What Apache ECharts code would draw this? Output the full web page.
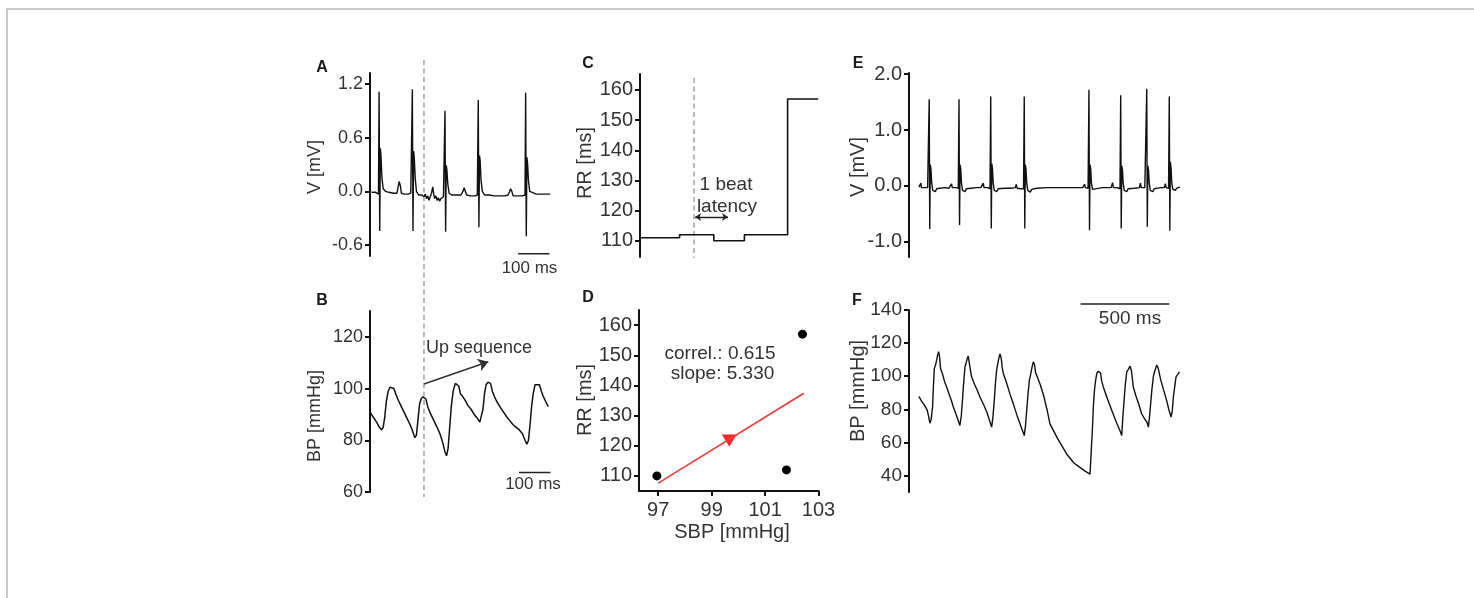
<!DOCTYPE html>
<html>
<head>
<meta charset="utf-8">
<script src="https://cdn.jsdelivr.net/npm/echarts@6/dist/echarts.min.js"></script>
<style>
html, body { margin: 0; padding: 0; background: #fff; overflow: hidden; }
#frame { position: absolute; left: 6px; top: 8px; width: 1500px; height: 700px; border-top: 2px solid #cbcbcb; border-left: 2px solid #cbcbcb; }
#chart { position: absolute; left: 0; top: 0; width: 1474px; height: 598px; }
</style>
</head>
<body>
<div id="frame"></div>
<div id="chart"></div>
<script>
const FONT = '"Liberation Sans", Arial, sans-serif';
const INK = '#111';
const TXT = '#333';

// A: ECG around the marker, [ms, mV]
const ecgA = [
  [5, -0.01], [18, -0.01], [24, 0.0], [27, -0.03],
  [29, 1.11], [31, -0.44], [33, 0.48], [35, 0.40], [38, 0.15], [42, 0.03], [50, 0.0], [60, -0.01], [75, -0.02], [86, -0.02],
  [90, 0.06], [93, 0.11], [97, 0.06], [100, -0.02], [110, -0.03], [122, -0.03], [130, -0.02], [133, -0.03],
  [135, 1.14], [137, -0.44], [139, 0.45], [141, 0.38], [144, 0.15], [148, 0.0], [155, -0.04], [165, -0.04],
  [172, -0.06], [176, -0.03], [180, -0.08], [184, -0.05], [188, -0.1], [192, -0.06], [196, -0.02], [200, 0.05],
  [203, -0.03], [206, -0.08], [210, -0.05], [214, -0.1], [218, -0.07], [222, -0.11], [226, -0.08], [230, -0.09], [234, -0.06], [237, -0.07],
  [239, 0.90], [241, -0.45], [243, 0.29], [245, 0.24], [248, 0.08], [252, -0.02], [260, -0.04], [275, -0.04], [290, -0.04],
  [296, 0.0], [300, 0.04], [304, 0.0], [308, -0.04], [320, -0.05], [335, -0.05], [342, -0.04],
  [345, 1.02], [347, -0.40], [349, 0.40], [351, 0.34], [354, 0.12], [358, 0.0], [365, -0.04], [380, -0.04], [395, -0.05],
  [414, -0.05], [430, -0.05], [440, -0.04], [445, 0.0], [448, 0.03], [452, 0.0], [456, -0.05], [470, -0.05], [485, -0.05], [494, -0.04],
  [496, 1.10], [498, -0.50], [500, 0.38], [502, 0.32], [505, 0.12], [509, 0.0], [515, -0.02], [530, -0.03], [545, -0.03], [560, -0.03], [574, -0.03]
];
const ecgATicks = [-0.6, 0, 0.6, 1.2];
const scaleBarA = [[472, -0.694], [572, -0.694]];
const markerTime = 172;

// B: blood pressure, [ms, mmHg]
const bpB = [
  [0, 91], [10, 89], [21, 87], [30, 85], [37, 84], [42, 85], [47, 89], [52, 95], [58, 99], [64, 100.5], [70, 100.5],
  [76, 100], [82, 98], [90, 95.5], [98, 93.5], [108, 91], [118, 88.5], [128, 86], [136, 83.5], [143, 81], [148, 82],
  [153, 88], [158, 94], [163, 96], [168, 96.8], [174, 97], [178, 96], [184, 93], [192, 90.5], [202, 88], [212, 85.5],
  [223, 82.5], [232, 79], [239, 75.5], [244, 74], [249, 77], [254, 85], [259, 93], [265, 99], [272, 102], [278, 102.5],
  [283, 101], [288, 98], [295, 97], [303, 95.5], [312, 93.5], [322, 92], [332, 90], [342, 88.5], [350, 87], [355, 87.5],
  [360, 92], [365, 98], [370, 101.5], [376, 102.5], [384, 102], [390, 99], [396, 97], [404, 95], [414, 93], [425, 91],
  [436, 89], [446, 87.5], [456, 86], [466, 85], [476, 84], [486, 82.5], [494, 80], [500, 78.5], [505, 80], [510, 86],
  [515, 93], [520, 98], [526, 101.5], [532, 102], [540, 101.5], [546, 99], [552, 97], [560, 95], [568, 93]
];
const bpBTicks = [60, 80, 100, 120];
const scaleBarB = [[475, 67.5], [575, 67.5]];
const upArrowB = [[172, 101.8], [377, 110.4]];

// C: RR intervals as steps
const rrStepX = [0, 22, 41, 58, 82, 99];
const rrStepY = [111, 112, 110, 112, 157, 157];
const rrTicks = [110, 120, 130, 140, 150, 160];
const markerC = 30;
const latencyArrow = [[30.6, 117.9], [48.9, 117.9]];

// D: SBP vs RR
const sbp = [96.95, 101.8, 102.4];
const rrD = [110, 112, 157];
const regLine = [[97.0, 107.6], [102.45, 137.4]];
const regArrow = [[99.66, 121.7]];
const sbpTicks = [97, 99, 101, 103];

// E: longer ECG, [ms, mV]
const ecgE = [
  [56, -0.02], [62, -0.03], [67, 0.05], [70, -0.03], [90, -0.03], [105, -0.03], [110, -0.05],
  [114, 1.55], [117, -0.77], [120, 0.38], [124, 0.30], [128, 0.05], [134, -0.08], [142, -0.06], [148, -0.1], [156, -0.05],
  [175, -0.04], [200, -0.03], [225, -0.04], [235, -0.03], [240, 0.04], [244, -0.03], [265, -0.03], [278, -0.04],
  [282, 1.55], [285, -0.70], [288, 0.38], [292, 0.30], [296, 0.05], [302, -0.08], [310, -0.06], [316, -0.1], [324, -0.05],
  [350, -0.04], [380, -0.03], [405, -0.03], [415, -0.02], [419, 0.05], [423, -0.03], [445, -0.03], [457, -0.05],
  [461, 1.60], [464, -0.76], [467, 0.40], [471, 0.30], [475, 0.05], [481, -0.08], [489, -0.06], [495, -0.1], [503, -0.05],
  [540, -0.04], [575, -0.04], [600, -0.03], [605, 0.03], [610, -0.04], [630, -0.05], [646, -0.05],
  [650, 1.60], [653, -0.76], [656, 0.38], [660, 0.30], [664, 0.05], [670, -0.08], [678, -0.06], [684, -0.11], [692, -0.06],
  [720, -0.04], [780, -0.03], [850, -0.03], [930, -0.03], [980, -0.03], [990, 0.03], [995, -0.03], [1010, -0.04],
  [1015, 1.72], [1018, -0.79], [1021, 0.38], [1025, 0.30], [1029, 0.05], [1035, -0.06], [1045, -0.04], [1090, -0.03],
  [1140, -0.03], [1148, 0.06], [1153, -0.03], [1175, -0.03], [1190, -0.05],
  [1194, 1.62], [1197, -0.76], [1200, 0.36], [1204, 0.28], [1208, 0.05], [1214, -0.08], [1222, -0.06], [1228, -0.1], [1236, -0.05],
  [1270, -0.04], [1300, -0.03], [1305, 0.05], [1310, -0.03], [1330, -0.03], [1337, -0.05],
  [1341, 1.74], [1344, -0.73], [1347, 0.36], [1351, 0.28], [1355, 0.05], [1361, -0.08], [1369, -0.06], [1375, -0.1], [1383, -0.05],
  [1420, -0.03], [1440, -0.03], [1446, 0.04], [1450, -0.03], [1464, -0.04],
  [1468, 1.60], [1471, -0.80], [1474, 0.43], [1478, 0.32], [1482, 0.05], [1488, -0.06], [1496, -0.04], [1502, -0.08], [1510, -0.04],
  [1520, -0.03], [1528, -0.02]
];
const ecgETicks = [-1, 0, 1, 2];

// F: longer blood pressure, [ms, mmHg]
const bpF = [
  [56, 87.8], [70, 85], [81, 83.4], [95, 81], [103, 79.3], [110, 76], [118, 71.6], [125, 74], [133, 81.4], [138, 95],
  [143, 104.7], [150, 107], [156, 109.7], [162, 113], [167, 114.8], [172, 112], [178, 104.7], [190, 101], [200, 97],
  [212, 93.5], [225, 89.5], [240, 85], [250, 81.4], [262, 78], [275, 74], [287, 70.2], [295, 76], [302, 86.4], [309, 97],
  [316, 105.7], [322, 108], [328, 110.5], [334, 112.2], [340, 111], [346, 104], [353, 99.6], [370, 95], [385, 91.5],
  [400, 87.4], [420, 83], [440, 78], [455, 73], [466, 69.2], [473, 75], [481, 85.4], [487, 95], [494, 103.6], [500, 107],
  [507, 111], [513, 113.4], [520, 111], [526, 105], [532, 101.6], [550, 96], [570, 89], [588, 83.4], [610, 76], [630, 70],
  [650, 64.1], [657, 70], [664, 79.3], [671, 89], [679, 97.6], [686, 101], [693, 105], [701, 108.7], [708, 107], [714, 102],
  [720, 100.6], [740, 95], [760, 88], [780, 79], [795, 71.2], [840, 62], [889, 53], [930, 47.5], [964, 44.9], [995, 42.5],
  [1021, 40.8], [1028, 55], [1034, 67.2], [1040, 82], [1046, 91.5], [1052, 97], [1059, 101.6], [1066, 103], [1074, 103.6],
  [1080, 102], [1087, 97], [1096, 93.5], [1120, 86], [1145, 79], [1170, 72], [1190, 67], [1200, 64.1], [1206, 75],
  [1213, 85.4], [1220, 95], [1228, 102.6], [1236, 104], [1247, 106.1], [1255, 103], [1265, 93.5], [1280, 88], [1296, 83],
  [1312, 77.3], [1330, 74], [1343, 72], [1350, 69.2], [1357, 76], [1363, 83.4], [1370, 92], [1378, 99.6], [1386, 103],
  [1397, 106.7], [1405, 105], [1420, 97.6], [1435, 92], [1453, 85.4], [1465, 80], [1478, 75.3], [1485, 79], [1491, 87.4],
  [1499, 94], [1506, 99.6], [1515, 101], [1525, 102.6]
];
const bpFTicks = [40, 60, 80, 100, 120, 140];
const scaleBarF = [[968, 143.6], [1468, 143.6]];

function yAxis(gi, min, max, ticks, digits, size) {
  return {
    type: 'value', gridIndex: gi, min: min, max: max,
    axisLine: { show: true, onZero: false, lineStyle: { color: INK, width: 2 } },
    axisTick: { show: true, length: 5, customValues: ticks, lineStyle: { color: INK, width: 2 } },
    axisLabel: { customValues: ticks, margin: 7, color: TXT, fontSize: size, fontFamily: FONT,
      formatter: function (v) { return Number(v).toFixed(digits); } },
    splitLine: { show: false }
  };
}
function hiddenX(gi, min, max) {
  return { type: 'value', gridIndex: gi, min: min, max: max, show: false };
}
function trace(gi, data, width) {
  return { type: 'line', xAxisIndex: gi, yAxisIndex: gi, data: data, symbol: 'none', silent: true,
    lineStyle: { color: INK, width: width } };
}
function bar(gi, data) {
  return { type: 'line', xAxisIndex: gi, yAxisIndex: gi, data: data, symbol: 'none', clip: false, silent: true,
    lineStyle: { color: '#222', width: 1.5 } };
}
function txt(x, y, s, size, align) {
  return { type: 'text', x: x, y: y, silent: true,
    style: { text: s, fill: TXT, font: size + 'px ' + FONT, align: align || 'center', verticalAlign: 'middle' } };
}
function title(x, y, s, size) {
  const t = txt(x, y, s, size);
  t.rotation = Math.PI / 2;
  return t;
}
function letter(x, y, s) {
  return { type: 'text', x: x, y: y, silent: true,
    style: { text: s, fill: '#1a1a1a', font: 'bold 16px ' + FONT, align: 'center', verticalAlign: 'middle' } };
}

const chart = echarts.init(document.getElementById('chart'));
const option = {
  animation: false,
  grid: [
    { left: 370, top: 73, width: 182, height: 183, outerBoundsMode: 'none' },
    { left: 370, top: 311, width: 182, height: 181, outerBoundsMode: 'none' },
    { left: 640, top: 74, width: 180, height: 183, outerBoundsMode: 'none' },
    { left: 639, top: 310, width: 179.5, height: 181, outerBoundsMode: 'none' },
    { left: 909, top: 73, width: 275, height: 184, outerBoundsMode: 'none' },
    { left: 909, top: 310, width: 275, height: 182, outerBoundsMode: 'none' }
  ],
  xAxis: [
    hiddenX(0, 0, 580),
    hiddenX(1, 0, 580),
    hiddenX(2, 0, 100),
    {
      type: 'value', gridIndex: 3, min: 96.28, max: 103,
      axisLine: { show: true, onZero: false, lineStyle: { color: INK, width: 2 } },
      axisTick: { show: true, length: 5, customValues: sbpTicks, lineStyle: { color: INK, width: 2 } },
      axisLabel: { customValues: sbpTicks, margin: 9, color: TXT, fontSize: 20, fontFamily: FONT },
      splitLine: { show: false }
    },
    hiddenX(4, 0, 1551),
    hiddenX(5, 0, 1551)
  ],
  yAxis: [
    yAxis(0, -0.72, 1.32, ecgATicks, 1, 18),
    yAxis(1, 60, 130, bpBTicks, 0, 18),
    yAxis(2, 104.6, 165.3, rrTicks, 0, 20),
    yAxis(3, 105, 165, rrTicks, 0, 20),
    yAxis(4, -1.27, 2.02, ecgETicks, 1, 20),
    yAxis(5, 30, 140, bpFTicks, 0, 19)
  ],
  series: [
    trace(0, ecgA, 1.4),
    bar(0, scaleBarA),
    Object.assign(trace(1, bpB, 1.5), {
      markLine: {
        silent: true, symbol: ['none', 'arrow'], symbolSize: 10, label: { show: false },
        lineStyle: { color: '#333', width: 1.5, type: 'solid' },
        data: [[{ coord: upArrowB[0] }, { coord: upArrowB[1] }]]
      }
    }),
    bar(1, scaleBarB),
    Object.assign(trace(2, rrStepX.map(function (x, i) { return [x, rrStepY[i]]; }), 1.6), {
      step: 'end',
      markLine: {
        silent: true, symbol: ['arrow', 'arrow'], symbolSize: 6, label: { show: false },
        lineStyle: { color: '#222', width: 1.3, type: 'solid' },
        data: [[{ coord: latencyArrow[0] }, { coord: latencyArrow[1] }]]
      }
    }),
    {
      type: 'line', xAxisIndex: 3, yAxisIndex: 3, data: regLine, symbol: 'none', silent: true,
      lineStyle: { color: '#f03a3a', width: 1.6 }
    },
    {
      type: 'scatter', xAxisIndex: 3, yAxisIndex: 3, data: regArrow, symbol: 'triangle', symbolRotate: 180,
      symbolSize: [15, 12], silent: true, itemStyle: { color: '#f02828', opacity: 1 }
    },
    {
      type: 'scatter', xAxisIndex: 3, yAxisIndex: 3, silent: true, symbolSize: 9,
      data: sbp.map(function (x, i) { return [x, rrD[i]]; }), itemStyle: { color: '#000', opacity: 1 }
    },
    trace(4, ecgE, 1.4),
    trace(5, bpF, 1.4),
    bar(5, scaleBarF)
  ]
};
chart.setOption(option);

// labels, axis titles and the dashed marker lines
const xm = chart.convertToPixel({ xAxisIndex: 0 }, markerTime);
const xc = chart.convertToPixel({ xAxisIndex: 2 }, markerC);
const dash = { stroke: '#a8a8a8', lineWidth: 1.6, lineDash: [5, 3.5] };
chart.setOption({
  graphic: [
    { type: 'line', silent: true, shape: { x1: xm, y1: 60, x2: xm, y2: 497 }, style: dash },
    { type: 'line', silent: true, shape: { x1: xc, y1: 78, x2: xc, y2: 258 }, style: dash },
    letter(322, 68, 'A'), letter(322, 301, 'B'), letter(588, 64, 'C'),
    letter(588, 298, 'D'), letter(858, 64, 'E'), letter(857, 301, 'F'),
    title(315, 167, 'V [mV]', 18),
    title(315, 416, 'BP [mmHg]', 18),
    title(585, 163, 'RR [ms]', 20),
    title(585, 400, 'RR [ms]', 20),
    title(858, 167, 'V [mV]', 20),
    title(858, 391, 'BP [mmHg]', 20),
    txt(529.5, 268, '100 ms', 17),
    txt(533, 484, '100 ms', 17),
    txt(1130, 319, '500 ms', 19),
    txt(426, 348, 'Up sequence', 18, 'left'),
    txt(726, 185, '1 beat', 19),
    txt(727, 207, 'latency', 19),
    txt(720, 353.5, 'correl.: 0.615', 19),
    txt(722.5, 373.5, 'slope: 5.330', 19),
    txt(732, 532, 'SBP [mmHg]', 20)
  ]
});
</script>
</body>
</html>
